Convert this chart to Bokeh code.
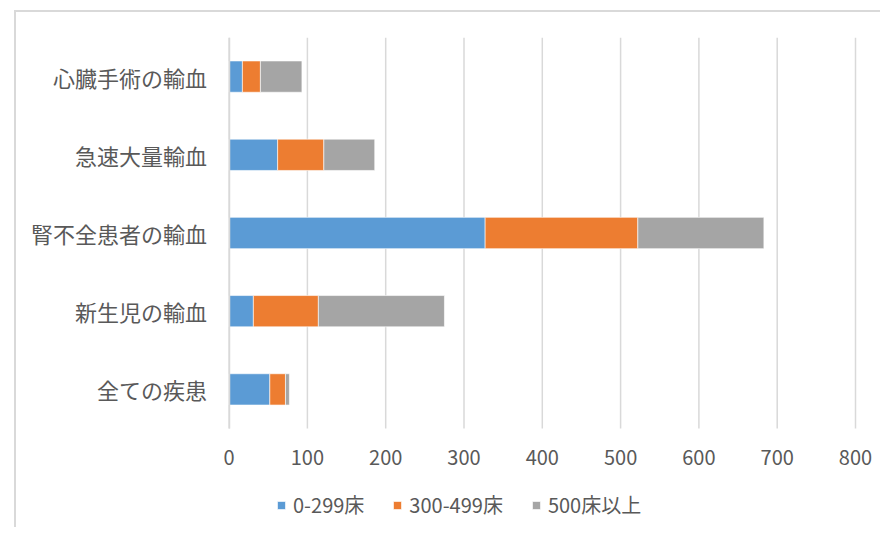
from bokeh.plotting import figure
from bokeh.models import ColumnDataSource, Range1d, Legend, LegendItem, FixedTicker
from bokeh.embed import file_html
from bokeh.resources import INLINE

categories = ["心臓手術の輸血", "急速大量輸血", "腎不全患者の輸血", "新生児の輸血", "全ての疾患"]
beds_small = [17, 62, 327, 31, 52]     # 0-299床
beds_mid = [23, 59, 195, 83, 20]       # 300-499床
beds_large = [53, 65, 161, 161, 5]     # 500床以上
series_names = ["0-299床", "300-499床", "500床以上"]
colors = ["#5B9BD5", "#ED7D31", "#A5A5A5"]
x_ticks = [0, 100, 200, 300, 400, 500, 600, 700, 800]

JP = "Noto Sans CJK JP"
TXT = "#595959"
GRID = "#D9D9D9"

n = len(categories)
y_pos = list(range(n, 0, -1))          # first category at the top
band_lo, band_hi = 0.5, n + 0.5
x_lo, x_hi = x_ticks[0], x_ticks[-1]

# canvas geometry (pixels)
W, H = 866, 517
PAD_TOP = 25            # canvas top -> top of category area
PAD_LEFT = 212.6        # canvas left -> value 0
PLOT_W = 626.4          # width of 0..800
UNIT_Y = 78.2           # height of one category band
x_px = PLOT_W / (x_hi - x_lo)
x_start = x_lo - PAD_LEFT / x_px
x_end = x_hi + (W - PAD_LEFT - PLOT_W) / x_px
y_start = band_hi - (H - PAD_TOP) / UNIT_Y

source = ColumnDataSource(dict(y=y_pos, s0=beds_small, s1=beds_mid, s2=beds_large))

p = figure(
    width=W, height=H,
    x_range=Range1d(x_start, x_end), y_range=Range1d(y_start, band_hi),
    output_backend="svg", toolbar_location=None,
    min_border_left=0, min_border_right=0, min_border_top=PAD_TOP, min_border_bottom=0,
)
p.styles = {"margin-left": "14px", "margin-top": "10px",
            "border-left": "2px solid #D9D9D9", "border-top": "2px solid #D9D9D9"}
p.outline_line_color = None
p.background_fill_color = "white"
p.border_fill_color = "white"
p.xgrid.visible = False
p.ygrid.visible = False

# vertical gridlines at the tick values, limited to the category bands
p.segment(x0=x_ticks, x1=x_ticks, y0=[band_lo] * len(x_ticks), y1=[band_hi] * len(x_ticks),
          line_color=GRID, line_width=1.5)

renderers = p.hbar_stack(["s0", "s1", "s2"], y="y", height=0.4, color=colors,
                         line_color="white", line_width=0.6, source=source)

# value axis, drawn at the bottom of the category area
p.xaxis.fixed_location = band_lo
p.xaxis.ticker = FixedTicker(ticks=x_ticks)
p.xaxis.axis_line_color = None
p.xaxis.major_tick_line_color = None
p.xaxis.minor_tick_line_color = None
p.xaxis.major_tick_out = 0
p.xaxis.major_label_standoff = 21
p.xaxis.major_label_text_font = JP
p.xaxis.major_label_text_font_size = "20px"
p.xaxis.major_label_text_color = TXT

# category axis at value 0
p.yaxis.fixed_location = x_lo
p.yaxis.ticker = FixedTicker(ticks=y_pos)
p.yaxis.major_label_overrides = {y: c for y, c in zip(y_pos, categories)}
p.yaxis.bounds = (band_lo, band_hi)
p.yaxis.axis_line_color = GRID
p.yaxis.axis_line_width = 1.5
p.yaxis.major_tick_line_color = None
p.yaxis.minor_tick_line_color = None
p.yaxis.major_tick_out = 0
p.yaxis.major_label_standoff = 22
p.yaxis.major_label_text_font = JP
p.yaxis.major_label_text_font_size = "22px"
p.yaxis.major_label_text_color = TXT

legend = Legend(
    items=[LegendItem(label=nm, renderers=[r]) for nm, r in zip(series_names, renderers)],
    orientation="horizontal", location=(260, 10),
    border_line_color=None, background_fill_alpha=0, padding=0, margin=0,
    spacing=28, label_standoff=7, glyph_width=10, glyph_height=10,
    label_text_font=JP, label_text_font_size="20px", label_text_color=TXT,
)
p.add_layout(legend)

open("out.html", "w").write(file_html(p, INLINE))
